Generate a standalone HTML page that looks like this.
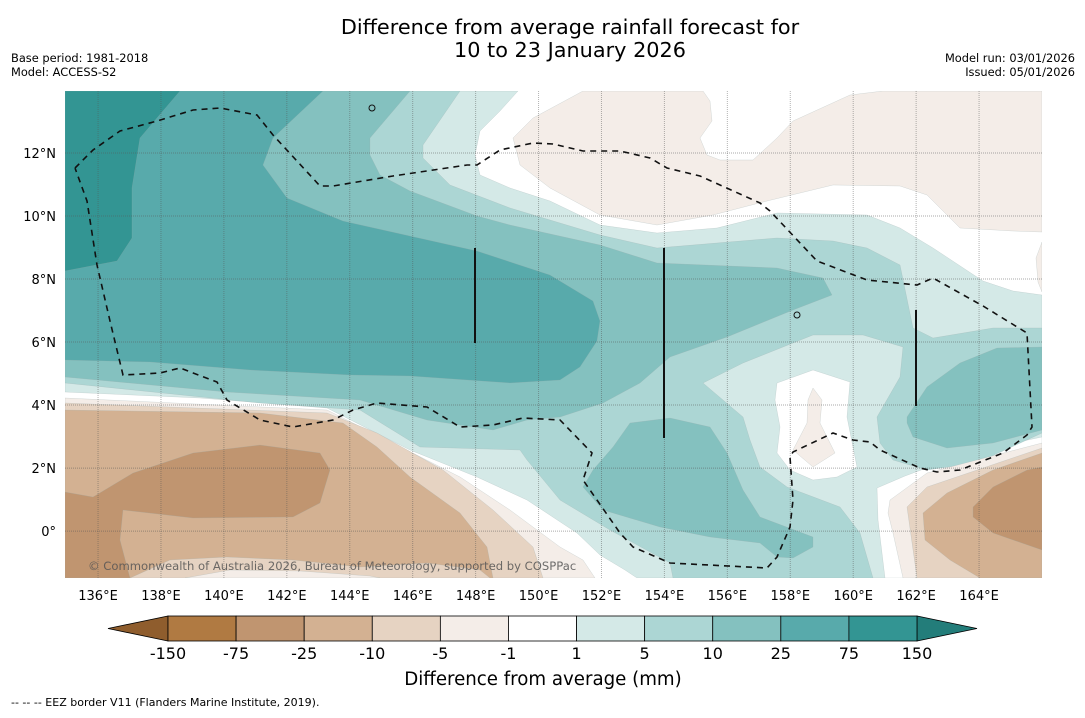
<!DOCTYPE html>
<html><head><meta charset="utf-8">
<style>
html,body{margin:0;padding:0;background:#fff;}
body{width:1085px;height:713px;overflow:hidden;font-family:"Liberation Sans","DejaVu Sans",sans-serif;}
svg text{font-family:"DejaVu Sans","Liberation Sans",sans-serif;}
</style></head>
<body>
<svg id="chart" width="1085" height="713" viewBox="0 0 1085 713" xmlns="http://www.w3.org/2000/svg">
  <rect x="0" y="0" width="1085" height="713" fill="#fff"/>
  <text x="570" y="34" font-size="20.8" text-anchor="middle" fill="#000">Difference from average rainfall forecast for</text>
  <text x="570" y="57" font-size="20.8" text-anchor="middle" fill="#000">10 to 23 January 2026</text>
  <text x="11" y="62" font-size="11.4" fill="#000">Base period: 1981-2018</text>
  <text x="11" y="76" font-size="11.4" fill="#000">Model: ACCESS-S2</text>
  <text x="1075" y="62" font-size="11.4" text-anchor="end" fill="#000">Model run: 03/01/2026</text>
  <text x="1075" y="76" font-size="11.4" text-anchor="end" fill="#000">Issued: 05/01/2026</text>

  <defs><clipPath id="mapclip"><rect x="65" y="91" width="977" height="487"/></clipPath></defs>
  <g id="map" clip-path="url(#mapclip)">
    <rect x="65" y="91" width="977" height="487" fill="#fff"/>
    <g id="fills" stroke="#9aa" stroke-width="0.4" stroke-opacity="0.5"></g>
    <g id="grid"></g>
    <g id="lines"></g>
    <text x="88" y="570" font-size="11.6" fill="#555" fill-opacity="0.85">© Commonwealth of Australia 2026, Bureau of Meteorology, supported by COSPPac</text>
  </g>
  <g id="axes"></g>
  <g id="colorbar"></g>
  <text x="543" y="685" font-size="18.2" text-anchor="middle" fill="#000">Difference from average (mm)</text>
  <text x="11" y="706" font-size="11" fill="#000">--  --  -- EEZ border V11 (Flanders Marine Institute, 2019).</text>
</svg>
<script>
const lonTicks = [136,138,140,142,144,146,148,150,152,154,156,158,160,162,164];
const latTicks = [12,10,8,6,4,2,0];
const cbLevels = ["-150","-75","-25","-10","-5","-1","1","5","10","25","75","150"];
const cbColors = ["#b07a42","#c09570","#d3b192","#e6d3c2","#f4ede8","#ffffff","#d4e9e7","#acd6d4","#84c1bf","#58aaab","#339593"];
const cbUnder = "#8f5d2d";
const cbOver = "#237d7a";

const X0=65, X1=1042, Y0=91, Y1=578;
const LON0=134.95, LON1=166.0, LAT0=13.97, LAT1=-1.49;
function xOf(lon){return X0+(lon-LON0)/(LON1-LON0)*(X1-X0);}
function yOf(lat){return Y0+(lat-LAT0)/(LAT1-LAT0)*(Y1-Y0);}
const NS="http://www.w3.org/2000/svg";
function mk(tag,attrs,parent){const e=document.createElementNS(NS,tag);for(const k in attrs)e.setAttribute(k,attrs[k]);parent.appendChild(e);return e;}

const C={t1:"#d4e9e7",t2:"#acd6d4",t3:"#84c1bf",t4:"#58aaab",t5:"#339593",b1:"#f4ede8",b2:"#e6d3c2",b3:"#d3b192",b4:"#c09570",w:"#ffffff"};
const regions=[
 ["teal-1-5-main","t1","65,91 518,91 500,111 480,131 475,155 480,175 510,188 550,201 600,225 657,233 717,228 777,213 867,215 900,228 933,248 983,281 1013,291 1042,295 1042,578 637,578 625,570 600,555 577,533 527,500 477,477 410,450 327,408 200,398 65,392"],
 ["white-east","w","1042,437 990,448 940,463 905,476 877,488 878,520 885,578 1042,578"],
 ["teal-5-10","t2","65,91 460,91 423,145 423,158 450,185 510,208 600,235 657,248 777,238 833,241 867,248 900,265 913,328 933,338 993,328 1042,328 1042,433 977,463 927,470 893,460 880,443 877,417 900,377 903,347 863,335 813,335 743,363 703,383 743,417 750,440 760,467 787,487 840,507 860,533 873,578 673,578 670,563 610,530 560,500 527,460 520,450 420,447 360,410 260,403 65,383"],
 ["teal-10-25","t3","65,91 410,91 370,138 370,155 380,175 410,191 477,216 510,225 600,245 657,263 777,268 823,278 832,295 793,310 727,337 670,357 640,383 603,403 560,417 527,420 493,430 427,420 360,400 227,392 65,377"],
 ["teal-10-25-south","t3","630,423 670,418 710,427 727,453 743,490 760,517 813,537 813,547 793,558 777,557 760,543 710,537 660,527 603,510 583,487 593,470 613,447"],
 ["teal-10-25-east","t3","1042,347 997,348 960,363 927,387 907,417 907,423 913,437 947,448 993,443 1042,430"],
 ["teal-25-75","t4","65,91 323,91 273,138 263,165 287,198 343,221 410,236 477,251 550,275 593,301 600,321 597,341 580,367 560,380 510,383 410,376 350,375 250,370 150,362 65,360"],
 ["teal-75-150","t5","65,91 180,91 140,138 132,188 132,238 117,261 65,271"],
 ["white-centre","w","777,383 813,370 850,382 847,417 857,467 837,477 813,480 790,470 777,453 780,427 775,400"],
 ["brown-centre","b1","813,388 822,400 820,423 835,453 813,467 793,450 807,423 808,400"],
 ["brown-north","b1","583,91 703,91 710,101 712,121 700,138 707,155 720,160 753,160 777,138 793,121 850,95 883,91 1042,91 1042,232 1013,231 960,228 927,195 900,186 833,185 767,201 713,215 657,225 600,215 550,188 520,165 513,138 533,118"],
 ["brown-north-edge","b1","1042,242 1036,258 1038,282 1042,292"],
 ["brown-west-1","b1","65,398 327,410 393,443 460,477 510,510 560,547 583,560 595,578 65,578"],
 ["brown-west-2","b2","65,403 327,413 377,433 443,470 493,510 533,547 543,578 65,578"],
 ["brown-west-3","b3","65,410 260,413 343,423 377,447 410,477 460,513 487,547 493,578 65,578"],
 ["brown-west-hump-2","b2","130,578 170,560 227,557 293,560 360,567 427,563 480,570 490,578"],
 ["brown-west-hump-1","b1","185,578 230,570 300,571 370,576 380,578"],
 ["brown-west-4","b4","65,492 93,497 133,473 193,453 260,445 320,453 330,470 320,503 293,517 193,518 123,510 120,540 130,578 65,578"],
 ["brown-east-1","b1","1042,443 927,473 890,500 888,513 893,533 903,578 1042,578"],
 ["brown-east-2","b2","1042,448 927,487 907,507 917,578 1042,578"],
 ["brown-east-3","b3","1042,453 993,470 947,493 923,513 925,540 950,560 980,578 1042,578"],
 ["brown-east-4","b4","1042,467 1027,470 993,487 973,507 973,517 993,533 1042,550"]
];
const fills=document.getElementById('fills');
regions.forEach(r=>{
  const p=mk('polygon',{points:r[2],fill:C[r[1]]},fills);
  
  
});

const grid=document.getElementById('grid');
lonTicks.forEach(l=>{
  const g=mk('line',{x1:xOf(l),x2:xOf(l),y1:Y0,y2:Y1,stroke:"#555","stroke-opacity":"0.45","stroke-width":"1","stroke-dasharray":"1,1"},grid);
  
  
});
latTicks.forEach(l=>{
  const g=mk('line',{x1:X0,x2:X1,y1:yOf(l),y2:yOf(l),stroke:"#555","stroke-opacity":"0.5","stroke-width":"1","stroke-dasharray":"1,1"},grid);
  
  
});

const lines=document.getElementById('lines');
const eez="75,168 93,150 120,131 157,121 193,110 220,108 257,115 273,135 320,186 333,186 393,176 467,165 477,165 500,150 533,143 553,144 583,151 620,151 650,158 667,168 700,176 760,203 770,211 817,261 867,280 917,285 933,278 983,306 1027,333 1032,427 1027,435 1003,453 960,470 937,472 920,468 880,450 870,442 853,440 833,433 793,452 790,457 793,500 790,527 777,557 767,568 670,563 633,547 620,533 583,480 592,453 560,420 523,418 493,425 460,427 427,407 377,403 353,410 333,420 293,427 260,420 227,400 217,382 180,368 160,373 123,375 110,321 97,265 87,201 75,168";
const e=mk('polyline',{points:eez,fill:"none",stroke:"#111","stroke-width":"1.6","stroke-dasharray":"6,5"},lines);


[[475,248,343],[664,248,438],[916,310,406]].forEach(v=>{
  const l=mk('line',{x1:v[0],x2:v[0],y1:v[1],y2:v[2],stroke:"#111","stroke-width":"2"},lines);
  
  
});
[[372,108],[797,315]].forEach(d=>{
  const c=mk('ellipse',{cx:d[0],cy:d[1],rx:3,ry:3,fill:"none",stroke:"#111","stroke-width":"1"},lines);
  
  
});

const axes=document.getElementById('axes');
lonTicks.forEach(l=>{
  const t=mk('text',{x:xOf(l),y:600,"font-size":"13","text-anchor":"middle",fill:"#000"},axes);
  t.textContent=l+"°E";
  
  
});
latTicks.forEach(l=>{
  const t=mk('text',{x:56,y:yOf(l)+5,"font-size":"13","text-anchor":"end",fill:"#000"},axes);
  t.textContent=l===0?"0°":l+"°N";
  
  
});

const cb=document.getElementById('colorbar');
const CB0=168, CB1=917, CBY=616, CBH=25;
const bw=(CB1-CB0)/cbColors.length;
const under=mk('polygon',{points:`108,${CBY+CBH/2} ${CB0},${CBY} ${CB0},${CBY+CBH}`,fill:cbUnder,stroke:"#000","stroke-width":"0.8"},cb);


const over=mk('polygon',{points:`977,${CBY+CBH/2} ${CB1},${CBY} ${CB1},${CBY+CBH}`,fill:cbOver,stroke:"#000","stroke-width":"0.8"},cb);


cbColors.forEach((c,i)=>{
  const r=mk('rect',{x:CB0+i*bw,y:CBY,width:bw,height:CBH,fill:c,stroke:"#000","stroke-width":"0.8"},cb);
  
  
});
cbLevels.forEach((v,i)=>{
  const t=mk('text',{x:CB0+i*bw,y:659,"font-size":"16","text-anchor":"middle",fill:"#000"},cb);
  t.textContent=v;
  
  
});
</script>
</body></html>
